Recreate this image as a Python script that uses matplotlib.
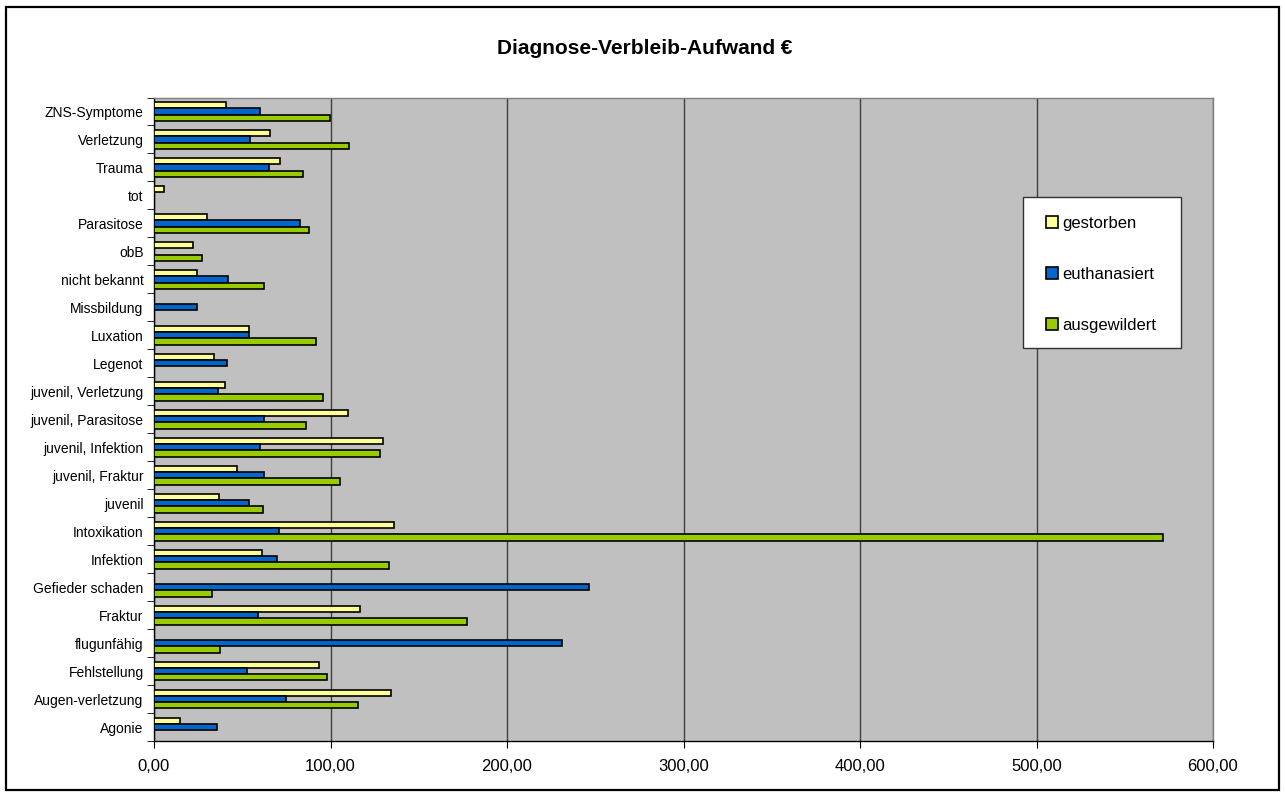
import numpy as np
import matplotlib.pyplot as plt
from matplotlib.patches import Rectangle

plt.rcParams['font.family'] = ['Liberation Sans', 'DejaVu Sans']

# categories bottom -> top
categories = ["Agonie", "Augen-verletzung", "Fehlstellung", "flugunfähig", "Fraktur",
              "Gefieder schaden", "Infektion", "Intoxikation", "juvenil", "juvenil, Fraktur",
              "juvenil, Infektion", "juvenil, Parasitose", "juvenil, Verletzung", "Legenot",
              "Luxation", "Missbildung", "nicht bekannt", "obB", "Parasitose", "tot",
              "Trauma", "Verletzung", "ZNS-Symptome"]

gestorben = [14.9, 134.3, 93.5, 0, 116.7, 0, 61.0, 135.8, 37.0, 47.0, 129.9, 109.7,
             40.2, 34.2, 54.0, 0, 24.5, 22.3, 30.2, 5.7, 71.6, 66.0, 40.8]
euthanasiert = [35.9, 75.0, 52.7, 230.9, 59.1, 246.6, 69.9, 70.8, 53.6, 62.1, 60.0, 62.3,
                36.3, 41.5, 54.0, 24.5, 41.9, 0, 82.5, 0, 65.3, 54.6, 60.0]
ausgewildert = [0, 115.8, 98.2, 37.6, 177.3, 32.9, 133.3, 571.5, 61.6, 105.6, 128.0, 86.1,
                95.9, 0, 91.8, 0, 62.5, 27.2, 87.6, 0, 84.6, 110.7, 99.7]

series = [("gestorben", gestorben, "#FFFF99", 1),
          ("euthanasiert", euthanasiert, "#0066CC", 0),
          ("ausgewildert", ausgewildert, "#99CC00", -1)]

W, H = 1285, 796
fig = plt.figure(figsize=(W / 100, H / 100), dpi=100)

# outer frame
fig.patches.append(Rectangle((6 / W, 1 - 790 / H), 1273 / W, 783 / H, transform=fig.transFigure,
                             fill=False, edgecolor="black", linewidth=1.6))

left, right, top, bottom = 154, 1213, 97.5, 741
ax = fig.add_axes([left / W, 1 - bottom / H, (right - left) / W, (bottom - top) / H])
ax.set_facecolor("#C0C0C0")

y = np.arange(len(categories))
h = 0.225
for name, vals, color, off in series:
    vals = np.array(vals, dtype=float)
    m = vals > 0
    ax.barh(y[m] + off * h, vals[m], height=h, color=color, edgecolor="black",
            linewidth=1.2, label=name, zorder=3)

ax.set_xlim(0, 600)
ax.set_ylim(-0.5, len(categories) - 0.5)
ax.set_xticks(np.arange(0, 601, 100))
ax.set_xticklabels([f"{v:.2f}".replace(".", ",") for v in np.arange(0, 601, 100)], fontsize=12)
ax.xaxis.grid(True, color="#404040", linewidth=1.0, zorder=1)
ax.set_axisbelow(True)
ax.tick_params(axis="x", length=5, direction="out", pad=8, color="black")

ax.set_yticks(y)
ax.set_yticklabels(categories, fontsize=10)
ax.tick_params(axis="y", which="major", length=0, pad=7.5)
ax.set_yticks(np.arange(-0.5, len(categories), 1), minor=True)
ax.tick_params(axis="y", which="minor", length=5, direction="out", color="black")

for s in ["top", "right"]:
    ax.spines[s].set_color("#808080")
    ax.spines[s].set_linewidth(1.0)
for s in ["left", "bottom"]:
    ax.spines[s].set_color("black")
    ax.spines[s].set_linewidth(1.0)

fig.text(645 / W, 1 - 48.5 / H, "Diagnose-Verbleib-Aufwand €", ha="center", va="center",
         fontsize=15, fontweight="bold")

# legend box
fig.patches.append(Rectangle((1023 / W, 1 - 348 / H), 158 / W, 151 / H, transform=fig.transFigure,
                             facecolor="white", edgecolor="#333333", linewidth=1.0, zorder=5))
leg = fig.legend(loc="upper left", bbox_to_anchor=(1046 / W, 1 - 216 / H), frameon=False,
                 fontsize=12, handlelength=0.7, handleheight=0.7, handletextpad=0.25,
                 labelspacing=2.15, borderpad=0, borderaxespad=0)
leg.set_zorder(6)

fig.savefig("out.png", dpi=100)
